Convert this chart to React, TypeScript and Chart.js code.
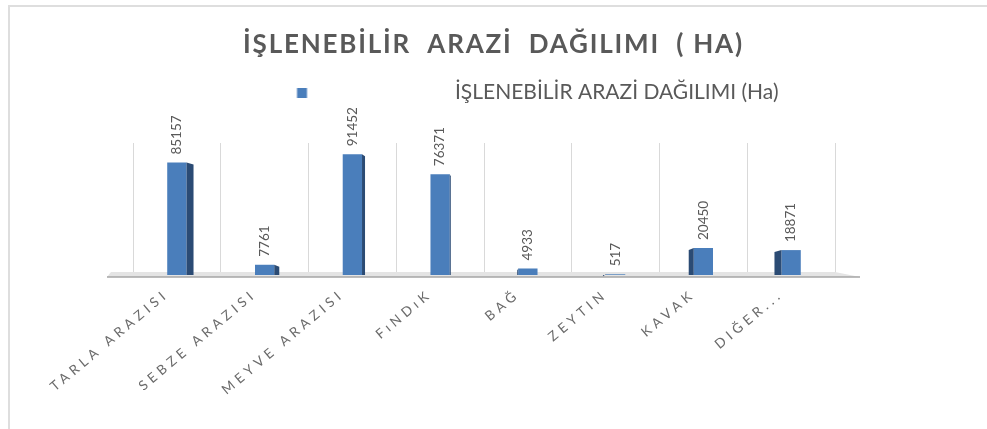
import React, { useEffect, useRef } from 'react';
import { Chart, registerables } from 'chart.js';

Chart.register(...registerables);

// ---- data ----
const categories = ['TARLA ARAZISI', 'SEBZE ARAZISI', 'MEYVE ARAZISI', 'FıNDıK', 'BAĞ', 'ZEYTIN', 'KAVAK', 'DIĞER...'];
const values = [85157, 7761, 91452, 76371, 4933, 517, 20450, 18871];
const seriesLabel = 'İŞLENEBİLİR ARAZİ DAĞILIMI (Ha)';
const titleText = 'İŞLENEBİLİR  ARAZİ  DAĞILIMI  ( HA)';
const yMin = 0;
const yMax = 100000;

// ---- style ----
const W = 987;
const H = 429;
const FONT = 'Lato';
const TEXT_GRAY = '#595959';
const BAR_BLUE = '#4a7ebb';
const BAR_SIDE = '#2b4b74';
const GRID = '#d9d9d9';
const LEGEND_FONT = 21;
const TITLE_FONT = 26;
const TITLE_PAD = { top: 29, bottom: 12 };
const PLOT_TOP = 143;
const PLOT_BOTTOM = 275;
const PLOT_LEFT = 133;
const PLOT_RIGHT = 835;

export default function App() {
  const ref = useRef<HTMLCanvasElement>(null);

  useEffect(() => {
    const canvas = ref.current;
    if (!canvas) return;
    Chart.defaults.font.family = FONT;

    // legend layout: wide point-style image so the marker sits far from the text
    const mctx = document.createElement('canvas').getContext('2d')!;
    mctx.font = `${LEGEND_FONT}px ${FONT}`;
    const textW = mctx.measureText(seriesLabel).width;
    const textStart = 455;
    const markerX = 297;
    const itemEnd = textStart + textW;
    const itemStart = W - itemEnd;
    const boxW = Math.max(20, textStart - LEGEND_FONT / 2 - itemStart);
    const marker = document.createElement('canvas');
    marker.width = Math.round(boxW);
    marker.height = 10;
    const mk = marker.getContext('2d')!;
    mk.fillStyle = BAR_BLUE;
    mk.fillRect(Math.max(0, markerX - itemStart), 0, 10, 10);

    const titleH = TITLE_PAD.top + TITLE_FONT * 1.2 + TITLE_PAD.bottom;

    const layoutPlugin = {
      id: 'layoutTweaks',
      beforeLayout(chart: any) {
        const lg = chart.legend;
        if (lg && !lg.__fitWrapped) {
          const orig = lg.fit;
          lg.fit = function (...args: any[]) {
            const r = orig.apply(this, args);
            this.height = Math.max(this.height, PLOT_TOP - titleH);
            return r;
          };
          lg.__fitWrapped = true;
        }
      },
      beforeDraw(chart: any) {
        const ctx = chart.ctx;
        const wrap = (obj: any, key: string, sp: string) => {
          if (!obj || (obj.__wrapped && obj.__wrapped[key])) return;
          const orig = obj[key];
          obj[key] = function (...args: any[]) {
            ctx.save();
            ctx.letterSpacing = sp;
            const r = orig.apply(this, args);
            ctx.restore();
            return r;
          };
          obj.__wrapped = { ...(obj.__wrapped || {}), [key]: true };
        };
        wrap(chart.titleBlock, 'draw', '1.8px');
        wrap(chart.scales.x, 'drawLabels', '4.3px');
      },
      beforeDatasetsDraw(chart: any) {
        // 3D floor band under the bars
        const ctx = chart.ctx;
        const a = chart.chartArea;
        const l = a.left - 26;
        const r = a.right + 25;
        ctx.save();
        ctx.fillStyle = '#e4e4e4';
        ctx.beginPath();
        ctx.moveTo(l + 4, a.bottom - 3);
        ctx.lineTo(r - 25, a.bottom - 3);
        ctx.lineTo(r, a.bottom + 2);
        ctx.lineTo(l, a.bottom + 2);
        ctx.closePath();
        ctx.fill();
        ctx.strokeStyle = '#a6a6a6';
        ctx.lineWidth = 1.5;
        ctx.beginPath();
        ctx.moveTo(l, a.bottom + 2);
        ctx.lineTo(r, a.bottom + 2);
        ctx.stroke();
        ctx.restore();
      },
    };

    const bar3dPlugin = {
      id: 'bar3d',
      afterDatasetsDraw(chart: any) {
        const ctx = chart.ctx;
        const meta = chart.getDatasetMeta(0);
        const area = chart.chartArea;
        const cx = (area.left + area.right) / 2;
        const half = (area.right - area.left) / 2;
        meta.data.forEach((bar: any, i: number) => {
          const { x, y, base, width } = bar.getProps(['x', 'y', 'base', 'width'], true);
          const d = -((x - cx) / half) * 8;
          if (Math.abs(d) > 0.8) {
            const edge = d > 0 ? x + width / 2 : x - width / 2;
            ctx.save();
            ctx.fillStyle = BAR_SIDE;
            ctx.beginPath();
            ctx.moveTo(edge, y);
            ctx.lineTo(edge + d, y + 2);
            ctx.lineTo(edge + d, base);
            ctx.lineTo(edge, base);
            ctx.closePath();
            ctx.fill();
            ctx.restore();
          }
          ctx.save();
          ctx.translate(x, y - 8);
          ctx.rotate(-Math.PI / 2);
          ctx.font = `13.5px ${FONT}`;
          ctx.fillStyle = TEXT_GRAY;
          ctx.textAlign = 'left';
          ctx.textBaseline = 'middle';
          ctx.fillText(String(values[i]), 0, 0);
          ctx.restore();
        });
      },
    };

    const chart = new Chart(canvas, {
      type: 'bar',
      data: {
        labels: categories,
        datasets: [
          {
            label: seriesLabel,
            data: values,
            backgroundColor: BAR_BLUE,
            borderWidth: 0,
            barPercentage: 0.44,
            categoryPercentage: 0.5,
          },
        ],
      },
      options: {
        responsive: false,
        animation: false,
        devicePixelRatio: 1,
        layout: { padding: 0 },
        plugins: {
          title: {
            display: true,
            text: titleText,
            color: TEXT_GRAY,
            font: { family: FONT, size: TITLE_FONT, weight: 'bold', lineHeight: 1.2 },
            padding: TITLE_PAD,
          },
          legend: {
            display: true,
            labels: {
              color: TEXT_GRAY,
              font: { family: FONT, size: LEGEND_FONT },
              usePointStyle: true,
              pointStyle: marker,
              pointStyleWidth: marker.width,
              padding: 10,
            },
          },
          tooltip: { enabled: false },
        },
        scales: {
          x: {
            grid: { display: true, color: GRID, lineWidth: 1, drawTicks: false, offset: true },
            border: { display: false },
            ticks: {
              color: '#6b6b6b',
              font: { family: FONT, size: 13.5 },
              minRotation: 40,
              maxRotation: 40,
              autoSkip: false,
              padding: 11,
              labelOffset: -10,
            },
            afterFit(scale: any) {
              scale.height = H - PLOT_BOTTOM;
              scale.paddingLeft = PLOT_LEFT;
              scale.paddingRight = W - PLOT_RIGHT;
              scale.paddingTop = PLOT_TOP;
            },
          },
          y: {
            display: false,
            min: yMin,
            max: yMax,
          },
        },
      },
      plugins: [layoutPlugin, bar3dPlugin],
    });
    return () => chart.destroy();
  }, []);

  return (
    <div style={{ position: 'fixed', left: 0, top: 0, width: W, height: H, background: '#fff' }}>
      <canvas ref={ref} width={W} height={H} style={{ position: 'absolute', left: 0, top: 0, width: W, height: H }} />
      <div
        style={{
          position: 'absolute',
          left: 8,
          top: 5,
          right: 0,
          bottom: 0,
          borderLeft: '2px solid #dedede',
          borderTop: '2px solid #dedede',
          pointerEvents: 'none',
        }}
      />
    </div>
  );
}
